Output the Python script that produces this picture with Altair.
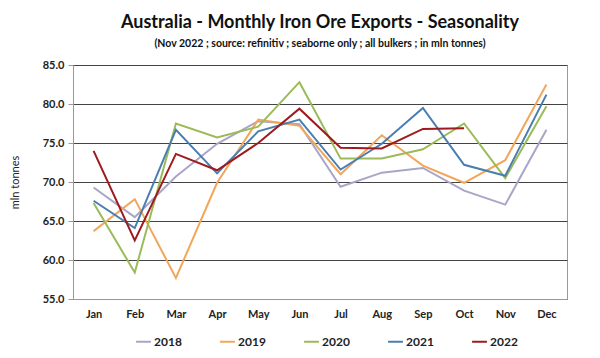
import altair as alt
import pandas as pd

months = ["Jan", "Feb", "Mar", "Apr", "May", "Jun", "Jul", "Aug", "Sep", "Oct", "Nov", "Dec"]
years = ["2018", "2019", "2020", "2021", "2022"]
colors = ["#a9a5c8", "#f2a65a", "#9bbb59", "#4a7eb0", "#9e1a1e"]

v2018 = [69.3, 65.5, 70.7, 74.9, 77.8, 77.4, 69.4, 71.2, 71.8, 68.9, 67.1, 76.7]
v2019 = [63.7, 67.8, 57.7, 69.9, 78.0, 77.2, 71.0, 76.0, 72.1, 69.9, 72.8, 82.5]
v2020 = [67.3, 58.4, 77.5, 75.7, 77.1, 82.8, 73.0, 73.0, 74.2, 77.5, 70.5, 79.7]
v2021 = [67.6, 64.1, 76.7, 71.1, 76.5, 78.0, 71.6, 74.9, 79.5, 72.2, 70.8, 81.2]
v2022 = [74.0, 62.5, 73.6, 71.5, 75.0, 79.4, 74.4, 74.3, 76.8, 76.9, None, None]

series = {"2018": v2018, "2019": v2019, "2020": v2020, "2021": v2021, "2022": v2022}
rows = []
for y in years:
    for m, v in zip(months, series[y]):
        if v is not None:
            rows.append({"month": m, "year": y, "value": v})
df = pd.DataFrame(rows)

FONT = "Lato"

chart = alt.Chart(df).mark_line(strokeWidth=2).encode(
    x=alt.X("month:N", sort=months, scale=alt.Scale(padding=0.5),
            axis=alt.Axis(title=None, ticks=False, labelAngle=0, labelFontWeight="bold",
                          labelFontSize=11, labelColor="#222", labelPadding=9,
                          domainColor="#999", grid=False)),
    y=alt.Y("value:Q", scale=alt.Scale(domain=[55, 85], nice=False, zero=False),
            axis=alt.Axis(title="mln tonnes", values=[55, 60, 65, 70, 75, 80, 85], format=".1f",
                          labelFontWeight="bold", labelFontSize=11, labelColor="#222",
                          titleFontSize=11, titleFontWeight="normal", titleColor="#222",
                          titlePadding=22, tickColor="#999", tickSize=5, domainColor="#999",
                          gridColor="#444", gridWidth=1, labelPadding=4)),
    color=alt.Color("year:N", scale=alt.Scale(domain=years, range=colors),
                    legend=alt.Legend(title=None, orient="none", direction="horizontal",
                                      legendX=62, legendY=268, columns=5, symbolType="stroke",
                                      symbolSize=220, symbolStrokeWidth=2, columnPadding=34,
                                      labelFontSize=12, labelFontWeight="bold", labelColor="#222",
                                      labelOffset=2)),
).properties(
    width=494, height=234,
    title=alt.TitleParams(
        text="Australia - Monthly Iron Ore Exports - Seasonality",
        subtitle="(Nov 2022 ; source: refinitiv ; seaborne only ; all bulkers ; in mln tonnes)",
        fontSize=18, fontWeight="bold", color="#111", font=FONT,
        subtitleFontSize=10.5, subtitleFontWeight="bold", subtitleColor="#111", subtitleFont=FONT,
        subtitlePadding=7, offset=10, anchor="middle"),
    autosize=alt.AutoSizeParams(type="none"),
    padding={"left": 65, "top": 57, "right": 25, "bottom": 51},
).configure(font=FONT).configure_view(stroke="#999", strokeWidth=1)

chart.save("out.html", embed_options={"renderer": "svg", "actions": False})
